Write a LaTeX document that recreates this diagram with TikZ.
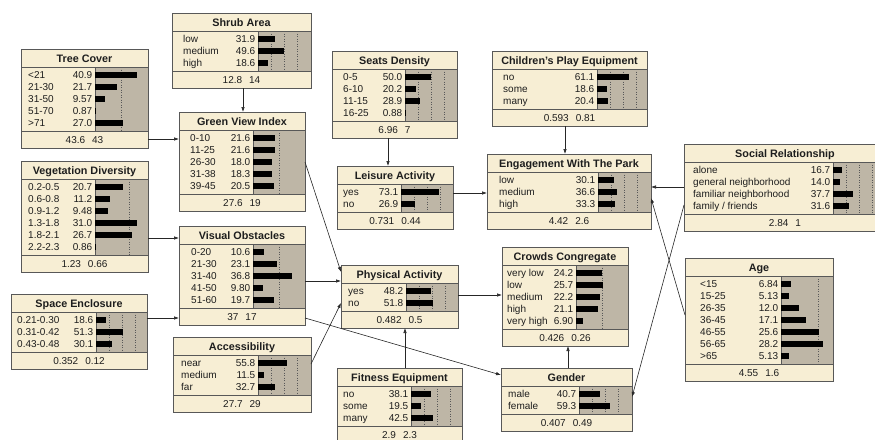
\documentclass[tikz,border=0pt]{standalone}
\usepackage{fontspec}
\setmainfont{Liberation Sans}
\usetikzlibrary{arrows.meta}

\definecolor{bncream}{RGB}{247,238,212}
\definecolor{bngray}{RGB}{190,182,166}
\definecolor{bnedge}{RGB}{88,88,88}
\definecolor{bntxt}{RGB}{30,30,30}

\tikzset{
  bnbox/.style={draw=bnedge, fill=bncream, line width=0.8pt, inner sep=0pt, outer sep=0pt, anchor=north west},
  bnline/.style={draw=bnedge, line width=0.8pt},
  bnbar/.style={fill=black},
  bngrid/.style={draw=bnedge, dotted, line width=0.5pt},
  bntitle/.style={font=\bfseries\fontsize{10.8}{12}\selectfont, text=bntxt, inner sep=0pt, anchor=base},
  bntext/.style={font=\fontsize{10}{12}\selectfont, text=bntxt, inner sep=0pt},
  bnarrow/.style={draw=black!85, line width=0.6pt, -{Latex[length=5pt,width=3.5pt]}},
}

\newcommand{\fgap}{\hspace{7pt}}

% label x, bar x, px per percent, grid lines
\newcommand{\bnset}[4]{%
  \def\bnlx{#1}\def\bnbx{#2}\def\bnsc{#3}\def\bngr{#4}}

% name, left, top, right, rows, title, footer, states
\newcommand{\bnnode}[8]{%
  \pgfmathsetmacro\bnsep{#3+18}%
  \pgfmathsetmacro\bnbot{#3+18+12*#5+4}%
  \pgfmathsetmacro\bnend{#3+18+12*#5+4+17}%
  \pgfmathsetmacro\bnmid{(#2+#4)/2}%
  \node[bnbox, minimum width={(#4-#2)*1pt}, minimum height={(\bnend-#3)*1pt}] (#1) at (#2,#3) {};
  \fill[bngray] (\bnbx,\bnsep) rectangle (#4,\bnbot);
  \foreach \g in \bngr {\draw[bngrid] (\bnbx+\bnsc*\g,\bnsep) -- (\bnbx+\bnsc*\g,\bnbot);}
  \draw[bnline] (#2,\bnsep) -- (#4,\bnsep) (#2,\bnbot) -- (#4,\bnbot) (\bnbx,\bnsep) -- (\bnbx,\bnbot);
  \draw[bnline] (#1.north west) rectangle (#1.south east);
  \node[bntitle] (#1-t) at (\bnmid,#3+13.2) {#6};
  \node[bntext, anchor=base] (#1-f) at (\bnmid,\bnbot+12) {#7};
  \foreach \lab/\val [count=\i] in {#8} {
    \pgfmathsetmacro\ry{\bnsep+8+12*(\i-1)}
    \node[bntext, anchor=base west] (#1-l\i) at (\bnlx,\ry+3.6) {\lab};
    \node[bntext, anchor=base east] (#1-v\i) at (\bnbx-2.5,\ry+3.6) {\val};
    \fill[bnbar] (\bnbx,\ry-3) rectangle (\bnbx+\bnsc*\val,\ry+3);
  }
}

\begin{document}
\begin{tikzpicture}[x=1pt, y=-1pt]
\useasboundingbox (0,0) rectangle (875,439);
\clip (0,0) rectangle (875,439);

% left column
\bnset{28}{95}{1.03}{25}
\bnnode{tree}{21}{49}{148}{5}{Tree Cover}{43.6\fgap 43}{<21/40.9, 21-30/21.7, 31-50/9.57, 51-70/0.87, >71/27.0}
\bnset{28}{95}{1.37}{25}
\bnnode{veg}{21}{161}{148}{6}{Vegetation Diversity}{1.23\fgap 0.66}{0.2-0.5/20.7, 0.6-0.8/11.2, 0.9-1.2/9.48, 1.3-1.8/31.0, 1.8-2.1/26.7, 2.2-2.3/0.86}
\bnset{17}{96}{0.52}{25,50,75}
\bnnode{space}{11}{294}{147}{3}{Space Enclosure}{0.352\fgap 0.12}{0.21-0.30/18.6, 0.31-0.42/51.3, 0.43-0.48/30.1}

% second column
\bnset{183}{258}{0.52}{25,50,75}
\bnnode{shrub}{172}{13}{311}{3}{Shrub Area}{12.8\fgap 14}{low/31.9, medium/49.6, high/18.6}
\bnset{190}{253}{1.03}{25}
\bnnode{gvi}{179}{112}{305}{5}{Green View Index}{27.6\fgap 19}{0-10/21.6, 11-25/21.6, 26-30/18.0, 31-38/18.3, 39-45/20.5}
\bnset{191}{253}{1.06}{25}
\bnnode{visobs}{179}{226}{305}{5}{Visual Obstacles}{37\fgap 17}{0-20/10.6, 21-30/23.1, 31-40/36.8, 41-50/9.80, 51-60/19.7}
\bnset{181}{258}{0.52}{25,50,75}
\bnnode{access}{173}{337}{311}{3}{Accessibility}{27.7\fgap 29}{near/55.8, medium/11.5, far/32.7}

% middle column
\bnset{343}{405}{0.52}{25,50,75}
\bnnode{seats}{332}{51}{457}{4}{Seats Density}{6.96\fgap 7}{0-5/50.0, 6-10/20.2, 11-15/28.9, 16-25/0.88}
\bnset{343}{401}{0.52}{25,50,75}
\bnnode{leisure}{337}{166}{453}{2}{Leisure Activity}{0.731\fgap 0.44}{yes/73.1, no/26.9}
\bnset{348}{406}{0.52}{25,50,75}
\bnnode{physical}{341}{265}{458}{2}{Physical Activity}{0.482\fgap 0.5}{yes/48.2, no/51.8}
\bnset{343}{411}{0.52}{25,50,75}
\bnnode{fitness}{337}{368}{462}{3}{Fitness Equipment}{2.9\fgap 2.3}{no/38.1, some/19.5, many/42.5}

% fourth column
\bnset{503}{597}{0.52}{25,50,75}
\bnnode{children}{492}{51}{647}{3}{Children's Play Equipment}{0.593\fgap 0.81}{no/61.1, some/18.6, many/20.4}
\bnset{499}{598}{0.52}{25,50,75}
\bnnode{engage}{487}{154}{651}{3}{Engagement With The Park}{4.42\fgap 2.6}{low/30.1, medium/36.6, high/33.3}
\bnset{507}{576}{1.06}{25}
\bnnode{crowds}{502}{247}{628}{5}{Crowds Congregate}{0.426\fgap 0.26}{very low/24.2, low/25.7, medium/22.2, high/21.1, very high/6.90}
\bnset{508}{579}{0.52}{25,50,75}
\bnnode{gender}{501}{368}{632}{2}{Gender}{0.407\fgap 0.49}{male/40.7, female/59.3}

% right column
\bnset{693}{833}{0.52}{25,50,75}
\bnnode{social}{684}{144}{886}{4}{Social Relationship}{2.84\fgap 1}{alone/16.7, general neighborhood/14.0, familiar neighborhood/37.7, {family / friends}/31.6}
\bnset{700}{781}{1.49}{25}
\bnnode{age}{685}{258}{833}{7}{Age}{4.55\fgap 1.6}{<15/6.84, 15-25/5.13, 26-35/12.0, 36-45/17.1, 46-55/25.6, 56-65/28.2, >65/5.13}

% links
\draw[bnarrow] (243,0 |- shrub.south) -- (243,0 |- gvi.north);
\draw[bnarrow] (tree.east |- 0,139) -- (gvi.west |- 0,139);
\draw[bnarrow] (veg.east |- 0,238) -- (visobs.west |- 0,238);
\draw[bnarrow] (space.east |- 0,318) -- (visobs.west |- 0,318);
\draw[bnarrow] (gvi.east |- 0,162) -- (physical.west |- 0,272);
\draw[bnarrow] (visobs.east |- 0,281) -- (physical.west |- 0,281);
\draw[bnarrow] (access.east |- 0,364) -- (physical.west |- 0,303);
\draw[bnarrow] (visobs.east |- 0,318) -- (gender.west |- 0,375);
\draw[bnarrow] (388,0 |- seats.south) -- (388,0 |- leisure.north);
\draw[bnarrow] (leisure.east |- 0,193) -- (engage.west |- 0,193);
\draw[bnarrow] (565,0 |- children.south) -- (565,0 |- engage.north);
\draw[bnarrow] (social.west |- 0,187) -- (engage.east |- 0,187);
\draw[bnarrow] (age.west |- 0,315) -- (engage.east |- 0,198);
\draw[bnarrow] (social.west |- 0,205) -- (gender.east |- 0,397);
\draw[bnarrow] (physical.east |- 0,295) -- (crowds.west |- 0,295);
\draw[bnarrow] (405,0 |- fitness.north) -- (405,0 |- physical.south);
\draw[bnarrow] (568,0 |- gender.north) -- (568,0 |- crowds.south);
\end{tikzpicture}
\end{document}
